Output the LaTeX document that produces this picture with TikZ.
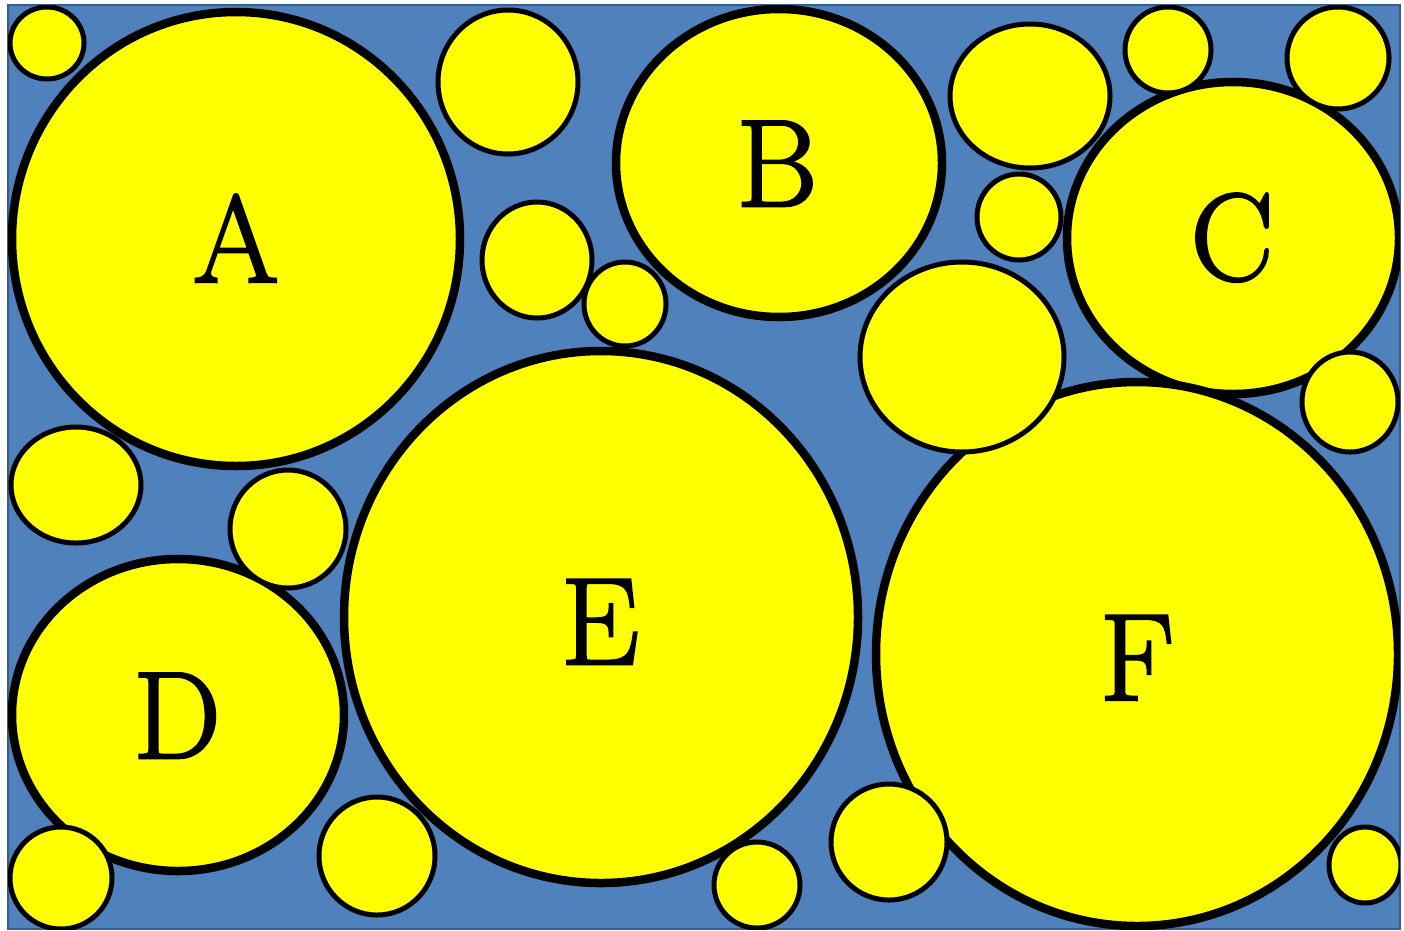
\documentclass[tikz,border=0pt]{standalone}
\usepackage{fontspec}
\newfontfamily\lblfont{Latin Modern Roman}[FakeBold=2]
\definecolor{bgblue}{HTML}{4F81BD}
\definecolor{bgedge}{HTML}{385D8A}
\definecolor{ball}{HTML}{FFFF00}
\tikzset{
  big/.style={draw=black, fill=ball, line width=8.5pt},
  small/.style={draw=black, fill=ball, line width=5pt},
  lbl/.style={anchor=base, inner sep=0pt, font=\lblfont\fontsize{124}{124}\selectfont}
}
\begin{document}
\begin{tikzpicture}[x=1pt,y=-1pt]
\useasboundingbox[fill=white] (0,0) rectangle (1404,930);
\fill[bgblue, draw=bgedge, line width=2pt] (8,5) rectangle (1400,929);
\begin{scope}
\clip (8,5) rectangle (1400,929);
% big circles
\draw[big] (236,239) ellipse [x radius=224, y radius=227];
\draw[big] (779,163) ellipse [x radius=163, y radius=154];
\draw[big] (1233,238) ellipse [x radius=166, y radius=156];
\draw[big] (178,715) ellipse [x radius=166, y radius=156];
\draw[big] (601,617) ellipse [x radius=257, y radius=266];
\draw[big] (1137,654) ellipse [x radius=261, y radius=272];
% small circles
\draw[small] (47,43) ellipse [x radius=37, y radius=36];
\draw[small] (508,82) ellipse [x radius=70, y radius=72];
\draw[small] (537,260) ellipse [x radius=55, y radius=58];
\draw[small] (625,304) ellipse [x radius=41, y radius=42];
\draw[small] (1030,96) ellipse [x radius=80, y radius=72];
\draw[small] (1168,50) ellipse [x radius=43, y radius=43];
\draw[small] (1338,58) ellipse [x radius=51, y radius=51];
\draw[small] (1019,217) ellipse [x radius=42, y radius=43];
\draw[small] (962,357) ellipse [x radius=102, y radius=95];
\draw[small] (1350,402) ellipse [x radius=48, y radius=50];
\draw[small] (76,485) ellipse [x radius=65, y radius=58];
\draw[small] (288,529) ellipse [x radius=58, y radius=59];
\draw[small] (61,878) ellipse [x radius=51, y radius=51];
\draw[small] (377,856) ellipse [x radius=58, y radius=59];
\draw[small] (757,885) ellipse [x radius=43, y radius=43];
\draw[small] (889,842) ellipse [x radius=58, y radius=58];
\draw[small] (1365,865) ellipse [x radius=36, y radius=38];
\end{scope}
% labels
\node[lbl] (A) at (236,282) {A};
\node[lbl] (B) at (777,206) {B};
\node[lbl] (C) at (1232,280) {C};
\node[lbl] (D) at (177,758) {D};
\node[lbl] (E) at (600,664) {E};
\node[lbl] (F) at (1137,700) {F};
\end{tikzpicture}
\end{document}
